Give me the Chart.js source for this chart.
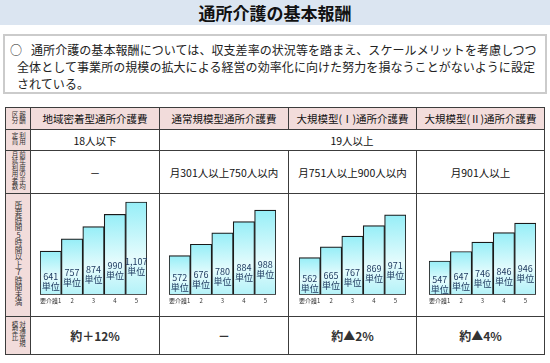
<!DOCTYPE html>
<html lang="ja">
<head>
<meta charset="utf-8">
<script src="https://cdn.jsdelivr.net/npm/chart.js@4"></script>
<style>
  html, body { margin: 0; padding: 0; }
  body { width: 550px; height: 363px; position: relative; overflow: hidden; background: #fff;
         font-family: "Noto Sans CJK JP", sans-serif; color: #222; }
  #title { position: absolute; left: 0; top: 0; width: 550px; height: 25px; background: #dbe5f1;
           text-align: center; font-size: 17px; font-weight: bold; line-height: 25px; color: #111; }
  #note { position: absolute; left: 3px; top: 34px; width: 540px; height: 56px; border: 2px solid #cbcbcb; }
  .line { position: absolute; font-size: 12px; line-height: 17px; white-space: nowrap; letter-spacing: 0.07px; }
  table { position: absolute; left: 5px; top: 107px; border-collapse: collapse; table-layout: fixed; }
  td { border: 1px solid #3c3c3c; padding: 0; text-align: center; vertical-align: middle; font-size: 10.5px; color: #111; }
  td.lab, tr.head td { background: #f2dcdb; }
  .vt { display: inline-block; writing-mode: vertical-rl; text-orientation: upright; font-size: 6.5px; line-height: 7.5px; text-align: start; color: #333; }
  .vt.big { font-size: 7.5px; line-height: 8px; }
  td.cmp { font-size: 12px; font-weight: bold; color: #333; }
  .chart { position: absolute; }
</style>
</head>
<body>
<div id="title">通所介護の基本報酬</div>
<div id="note">
  <div class="line" style="left:5px; top:5px;">○</div>
  <div class="line" style="left:26px; top:5px;">通所介護の基本報酬については、収支差率の状況等を踏まえ、スケールメリットを考慮しつつ</div>
  <div class="line" style="left:12px; top:22px;">全体として事業所の規模の拡大による経営の効率化に向けた努力を損なうことがないように設定</div>
  <div class="line" style="left:12px; top:39px;">されている。</div>
</div>

<table id="tbl">
  <colgroup>
    <col style="width:25px"><col style="width:129px"><col style="width:129px"><col style="width:128px"><col style="width:128px">
  </colgroup>
  <tr class="head" id="rowHead" style="height:22px">
    <td class="lab"><span class="vt">報酬<br>区分</span></td>
  </tr>
  <tr style="height:21px" id="rowTeiin">
    <td class="lab"><span class="vt">利用<br>定員</span></td>
  </tr>
  <tr style="height:42px" id="rowRiyou">
    <td class="lab"><span class="vt">前年度の平均<br>月延利用者数</span></td>
  </tr>
  <tr style="height:123px" id="rowChart">
    <td class="lab"><span class="vt big">所要時間5時間以上7時間未満</span></td>
    <td></td><td></td><td></td><td></td>
  </tr>
  <tr style="height:38px" id="rowHikaku">
    <td class="lab"><span class="vt">対通常規<br>模型比</span></td>
  </tr>
</table>

<div class="chart" style="left:38px; top:200px; width:109px; height:106px;"><canvas id="c1"></canvas></div>
<div class="chart" style="left:167px; top:200px; width:109px; height:106px;"><canvas id="c2"></canvas></div>
<div class="chart" style="left:297px; top:200px; width:109px; height:106px;"><canvas id="c3"></canvas></div>
<div class="chart" style="left:427px; top:200px; width:109px; height:106px;"><canvas id="c4"></canvas></div>

<script>
// データ
const categories = ['要介護1', '2', '3', '4', '5'];
const chiikiMicchaku = [641, 757, 874, 990, 1107];
const tsujoKibo = [572, 676, 780, 884, 988];
const daikibo1 = [562, 665, 767, 869, 971];
const daikibo2 = [547, 647, 746, 846, 946];

const headers = ['地域密着型通所介護費', '通常規模型通所介護費', '大規模型(Ⅰ)通所介護費', '大規模型(Ⅱ)通所介護費'];
const teiin = ['18人以下', '19人以上'];
const riyousha = ['－', '月301人以上750人以内', '月751人以上900人以内', '月901人以上'];
const hikaku = ['約＋12%', '－', '約▲2%', '約▲4%'];

// 元の図は軸がそろっていないので、グラフごとの縦軸範囲
const yMins = [226, 213, 207, 190];
const yMaxs = [1126, 1081, 1113, 1190];

// 表の中身
function addCells(rowId, texts, cls) {
  const row = document.getElementById(rowId);
  texts.forEach((t, i) => {
    const td = document.createElement('td');
    td.textContent = t;
    if (cls) td.className = cls;
    if (rowId === 'rowTeiin' && i === 1) td.colSpan = 3;
    row.appendChild(td);
  });
}
addCells('rowHead', headers);
addCells('rowTeiin', teiin);
addCells('rowRiyou', riyousha);
addCells('rowHikaku', hikaku, 'cmp');

// 棒ごとのグラデーション
function barFill(ctx) {
  const chart = ctx.chart;
  const area = chart.chartArea;
  if (!area || ctx.type !== 'data' || !chart.scales.y) return '#c9f6fa';
  const top = chart.scales.y.getPixelForValue(ctx.raw);
  const g = chart.ctx.createLinearGradient(0, top, 0, area.bottom);
  g.addColorStop(0, '#96eef7');
  g.addColorStop(0.6, '#e6fcfd');
  g.addColorStop(1, '#b3f2f8');
  return g;
}

// 棒の中の「○○単位」
const tanniLabel = {
  id: 'tanniLabel',
  afterDatasetsDraw(chart) {
    const c = chart.ctx;
    const meta = chart.getDatasetMeta(0);
    c.save();
    c.fillStyle = '#1f3a60';
    c.font = '9px "Noto Sans CJK JP"';
    c.textAlign = 'center';
    c.textBaseline = 'middle';
    meta.data.forEach((bar, i) => {
      const v = chart.data.datasets[0].data[i];
      const mid = bar.base - (bar.base - bar.y) * 0.3;
      c.fillText(v.toLocaleString('en-US'), bar.x, mid - 5);
      c.fillText('単位', bar.x, mid + 5);
    });
    c.restore();
  }
};

function makeChart(id, values, idx) {
  new Chart(document.getElementById(id), {
    type: 'bar',
    data: {
      labels: categories,
      datasets: [{
        data: values,
        base: yMins[idx],
        backgroundColor: barFill,
        borderColor: '#1a1a1a',
        borderWidth: 1.2,
        borderSkipped: false,
        barPercentage: 1,
        categoryPercentage: 1
      }]
    },
    options: {
      responsive: true,
      maintainAspectRatio: false,
      animation: false,
      layout: { padding: 0 },
      scales: {
        x: {
          grid: { display: false, drawTicks: false },
          border: { display: false },
          ticks: { color: '#333', padding: 2, maxRotation: 0, autoSkip: false,
                   font: { size: 6, family: '"Noto Sans CJK JP"' } }
        },
        y: { display: false, min: yMins[idx], max: yMaxs[idx] }
      },
      plugins: { legend: { display: false }, tooltip: { enabled: false } }
    },
    plugins: [tanniLabel]
  });
}

makeChart('c1', chiikiMicchaku, 0);
makeChart('c2', tsujoKibo, 1);
makeChart('c3', daikibo1, 2);
makeChart('c4', daikibo2, 3);
</script>
</body>
</html>
